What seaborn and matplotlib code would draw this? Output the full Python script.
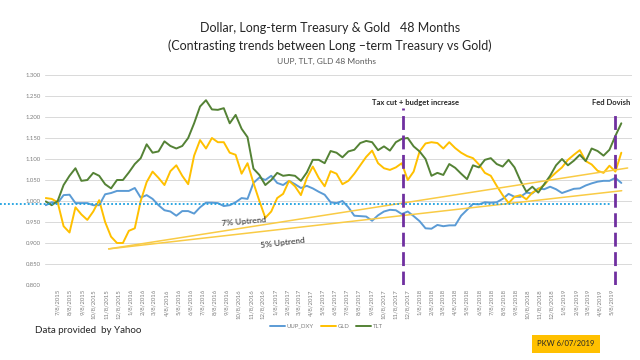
import pandas as pd
import matplotlib.pyplot as plt
from matplotlib.lines import Line2D
import seaborn as sns

# ---------------------------------------------------------------- data (every 15 days)
dates = pd.date_range('2015-06-08', periods=98, freq='15D')

uup = [0.990, 0.997, 0.995, 1.014, 1.015, 0.995, 0.995, 0.995, 0.990, 0.990,
       1.016, 1.019, 1.024, 1.024, 1.024, 1.031, 1.008, 1.014, 1.005, 0.990,
       0.978, 0.975, 0.965, 0.976, 0.976, 0.970, 0.985, 0.996, 0.996, 0.995,
       0.988, 0.990, 0.997, 1.007, 1.005, 1.043, 1.056, 1.050, 1.060, 1.043,
       1.038, 1.048, 1.040, 1.031, 1.036, 1.030, 1.022, 1.015, 0.997, 0.995,
       1.000, 0.985, 0.965, 0.964, 0.963, 0.953, 0.966, 0.975, 0.979, 0.978,
       0.969, 0.975, 0.964, 0.952, 0.935, 0.934, 0.943, 0.940, 0.942, 0.942,
       0.965, 0.979, 0.993, 0.992, 0.997, 0.996, 0.997, 1.005, 1.017, 1.010,
       1.010, 1.020, 1.018, 1.030, 1.028, 1.034, 1.028, 1.019, 1.024, 1.029,
       1.030, 1.037, 1.042, 1.046, 1.048, 1.048, 1.055, 1.043]

gld = [1.007, 1.005, 0.997, 0.940, 0.925, 0.985, 0.968, 0.955, 0.975, 1.002,
       0.950, 0.915, 0.900, 0.900, 0.929, 0.935, 1.000, 1.045, 1.070, 1.055,
       1.038, 1.071, 1.085, 1.060, 1.040, 1.108, 1.145, 1.125, 1.150, 1.140,
       1.140, 1.115, 1.110, 1.065, 1.090, 1.043, 1.000, 0.960, 0.975, 1.007,
       1.017, 1.048, 1.035, 1.014, 1.055, 1.082, 1.055, 1.035, 1.071, 1.065,
       1.040, 1.048, 1.065, 1.085, 1.105, 1.120, 1.090, 1.078, 1.074, 1.080,
       1.090, 1.050, 1.070, 1.118, 1.137, 1.140, 1.138, 1.125, 1.140, 1.126,
       1.115, 1.107, 1.102, 1.087, 1.067, 1.060, 1.036, 1.014, 0.995, 1.010,
       1.014, 1.004, 1.020, 1.028, 1.038, 1.055, 1.068, 1.080, 1.098, 1.110,
       1.121, 1.095, 1.087, 1.072, 1.067, 1.084, 1.070, 1.115]

tlt = [0.999, 0.990, 1.000, 1.038, 1.060, 1.078, 1.048, 1.050, 1.067, 1.060,
       1.040, 1.030, 1.050, 1.050, 1.068, 1.088, 1.102, 1.135, 1.115, 1.118,
       1.142, 1.131, 1.125, 1.131, 1.150, 1.185, 1.225, 1.240, 1.218, 1.217,
       1.221, 1.185, 1.205, 1.172, 1.152, 1.077, 1.062, 1.038, 1.050, 1.067,
       1.060, 1.062, 1.060, 1.048, 1.068, 1.098, 1.098, 1.090, 1.119, 1.115,
       1.104, 1.118, 1.122, 1.138, 1.143, 1.140, 1.121, 1.130, 1.120, 1.140,
       1.148, 1.150, 1.130, 1.118, 1.100, 1.060, 1.067, 1.062, 1.088, 1.079,
       1.065, 1.052, 1.085, 1.080, 1.098, 1.102, 1.088, 1.082, 1.098, 1.080,
       1.048, 1.022, 1.034, 1.020, 1.040, 1.060, 1.085, 1.100, 1.085, 1.096,
       1.110, 1.095, 1.125, 1.119, 1.108, 1.122, 1.155, 1.185]

series_names = ['UUP_DXY', 'GLD', 'TLT']
series_colors = ['#5B9BD5', '#FFC000', '#548235']

trend_dates = pd.to_datetime(['2015-11-14', '2019-06-18', '2019-06-03'])
trend_vals = [0.886, 1.0786, 1.0245]       # start, 7% end, 5% end
baseline = 0.993
event_dates = pd.to_datetime(['2017-11-28', '2019-05-18'])
event_labels = ['Tax cut + budget increase', 'Fed Dovish']
tick_dates = pd.date_range('2015-06-08', '2019-05-08', freq='MS') + pd.Timedelta(days=7)

df = pd.DataFrame({'date': list(dates) * 3,
                   'value': uup + gld + tlt,
                   'series': sum([[n] * len(dates) for n in series_names], [])})

# ---------------------------------------------------------------- figure
sns.set_theme(style='white')
plt.rcParams['font.family'] = ['Lato', 'DejaVu Sans']

fig = plt.figure(figsize=(6.4, 3.6), dpi=100)
ax = fig.add_axes([0.0703, 0.2083, 0.9172, 0.5834])

sns.lineplot(data=df, x='date', y='value', hue='series', hue_order=series_names,
             palette=series_colors, linewidth=1.4, legend=False, ax=ax)

# trend lines
ax.plot([trend_dates[0], trend_dates[1]], [trend_vals[0], trend_vals[1]], color='#F9CB45', lw=1.1)
ax.plot([trend_dates[0], trend_dates[2]], [trend_vals[0], trend_vals[2]], color='#F9CB45', lw=1.1)
ax.text(pd.Timestamp('2016-10-20'), 0.952, '7% Uptrend', fontsize=6, rotation=5,
        ha='center', va='center', color='#262626')
ax.text(pd.Timestamp('2017-01-26'), 0.900, '5% Uptrend', fontsize=6, rotation=7,
        ha='center', va='center', color='#262626')

# dotted baseline
ax.axhline(baseline, xmin=-0.077, xmax=0.9625, color='#1CA0E0', lw=1.3,
           ls=(0, (1, 1.2)), clip_on=False)

# event markers
for d, lab, top in zip(event_dates, event_labels, [0.842, 0.83]):
    ax.axvline(d, ymin=0, ymax=top, color='#7030A0', lw=2.0, ls=(0, (5, 2)))
    ax.text(d + pd.Timedelta(days=30 if lab.startswith('Tax') else -10), 1.234, lab,
            fontsize=5.5, fontweight='bold', ha='center', va='center', color='#262626')

# axes styling
ax.set_ylim(0.8, 1.3)
ax.set_yticks([0.8 + 0.05 * i for i in range(11)])
ax.yaxis.set_major_formatter(plt.FuncFormatter(lambda v, p: f'{v:.3f}'))
ax.set_xlim(pd.Timestamp('2015-06-06'), pd.Timestamp('2019-06-29'))
ax.set_xticks(tick_dates)
ax.set_xticklabels([f'{d.month}/{d.day}/{d.year}' for d in tick_dates], rotation=90)
ax.tick_params(axis='both', labelsize=4.3, labelcolor='#7F7F7F', length=0, pad=3)
ax.grid(axis='y', color='#D9D9D9', lw=0.7)
ax.grid(axis='x', visible=False)
for s in ax.spines.values():
    s.set_visible(False)
ax.set_xlabel('')
ax.set_ylabel('')

# titles
fig.text(0.516, 0.922, 'Dollar, Long-term Treasury & Gold   48 Months', ha='center', va='center',
         fontsize=9, color='#262626')
fig.text(0.516, 0.873, '(Contrasting trends between Long \u2013term Treasury vs Gold)', ha='center',
         va='center', fontsize=9, color='#262626')
fig.text(0.51, 0.828, 'UUP, TLT, GLD 48 Months', ha='center', va='center', fontsize=6,
         color='#595959')

# legend
handles = [Line2D([0], [0], color=c, lw=1.4) for c in series_colors]
fig.legend(handles, series_names, loc='center', bbox_to_anchor=(0.51, 0.094), ncol=3,
           frameon=False, fontsize=4.3, labelcolor='#7F7F7F', handlelength=2.5,
           columnspacing=1.2, handletextpad=0.3)

fig.text(0.055, 0.083, 'Data provided  by Yahoo', ha='left', va='center', fontsize=7,
         color='#262626')
fig.text(0.884, 0.045, 'PKW 6/07/2019', ha='center', va='center', fontsize=5.5, color='#262626',
         bbox=dict(boxstyle='square,pad=0.7', fc='#FFC000', ec='none'))

plt.savefig('out.png', dpi=100)
